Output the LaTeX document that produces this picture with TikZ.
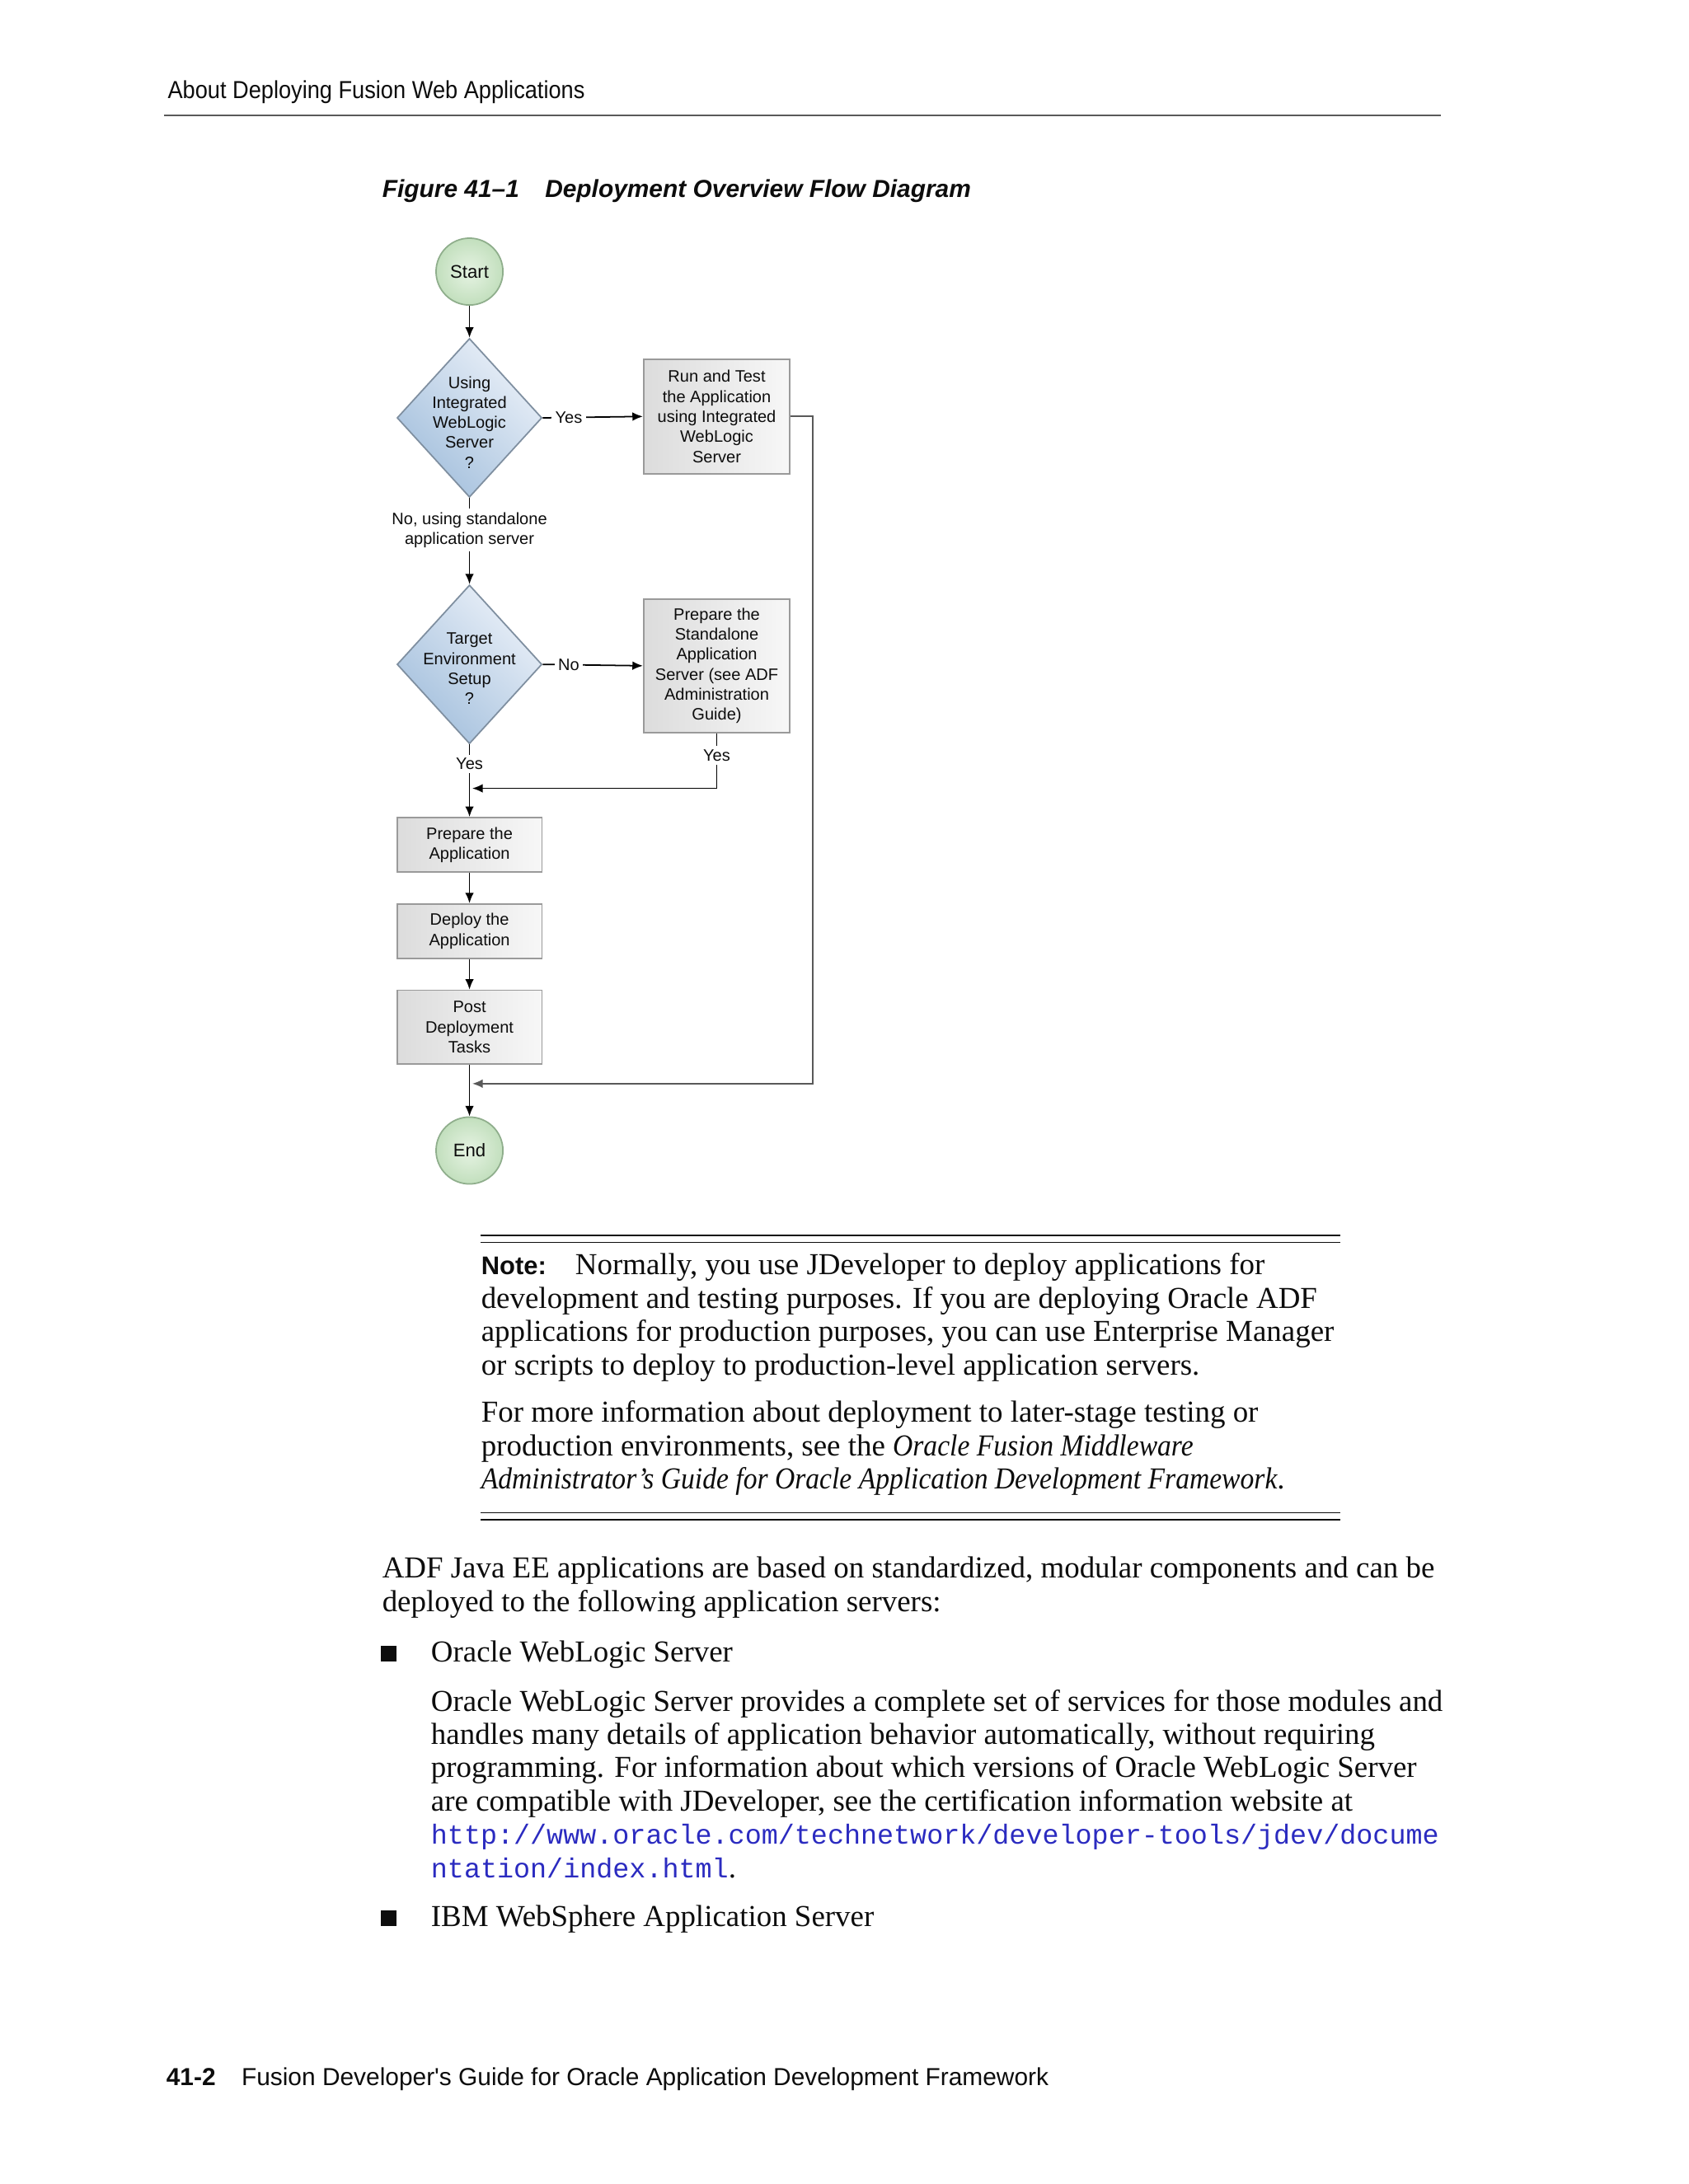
\documentclass[tikz,border=0pt]{standalone}
\usepackage{fontspec}
\setmainfont{Liberation Serif}[ItalicFeatures={FakeStretch=0.91}]
\setsansfont{Liberation Sans}
\setmonofont{Liberation Mono}
\newfontfamily\NarrowSans[FakeStretch=0.91]{Liberation Sans}
\usetikzlibrary{arrows.meta,shapes.geometric,positioning}
\definecolor{PageInk}{gray}{0.05}
\definecolor{RuleInk}{gray}{0.35}
\definecolor{BoxLine}{HTML}{9A9A9A}
\definecolor{BoxDark}{HTML}{DCDCDC}
\definecolor{BoxLight}{HTML}{F7F7F7}
\definecolor{DiamondLine}{HTML}{7F8FA0}
\definecolor{DiamondDark}{HTML}{A4C0DD}
\definecolor{DiamondLight}{HTML}{EAF0F8}
\definecolor{TermLine}{HTML}{8FAE8C}
\definecolor{TermInner}{HTML}{E6F3E3}
\definecolor{TermOuter}{HTML}{C2DFBD}
\definecolor{LinkBlue}{HTML}{2B2BC0}
\newcommand{\FlowFont}{\sffamily\fontsize{5.7}{6.9}\selectfont}
\newcommand{\BodyFont}{\rmfamily\fontsize{10.5}{11.5}\selectfont}
\newcommand{\NoteTag}{{\sffamily\bfseries\fontsize{8.8}{11.5}\selectfont Note:}}
\newcommand{\BulletMark}{\rule{5.5pt}{5.5pt}}

\begin{document}
\begin{tikzpicture}[
  x=0.016898cm,y=-0.016898cm,
  text=PageInk,
  flowbox/.style={draw=BoxLine,line width=0.5pt,left color=BoxDark,right color=BoxLight,
                  font=\FlowFont,align=center,inner sep=1pt,minimum width=1.757cm},
  decision/.style={shape=diamond,draw=DiamondLine,line width=0.5pt,
                   bottom color=DiamondDark,top color=DiamondLight,shading angle=-45,
                   inner sep=0pt,minimum width=1.757cm,minimum height=1.926cm},
  qtext/.style={font=\FlowFont,align=center,inner sep=0pt,yshift=-1.5pt},
  terminal/.style={circle,draw=TermLine,line width=0.5pt,inner color=TermInner,
                   outer color=TermOuter,font=\FlowFont\fontsize{6.3}{7}\selectfont,
                   inner sep=0pt,minimum size=0.811cm},
  flow/.style={draw=black,line width=0.5pt,-{Latex[length=3.6pt,width=3pt]}},
  loopflow/.style={flow,draw=RuleInk},
  lbl/.style={fill=white,font=\FlowFont,inner sep=1.2pt,align=center},
  bodytext/.style={font=\BodyFont,align=left,inner sep=0pt,anchor=base west},
  pagesans/.style={inner sep=0pt,anchor=base west},
]
  \useasboundingbox[fill=white] (0,0) rectangle (1212,1568);

  % running head
  \node[pagesans,font=\NarrowSans\fontsize{8.5}{10}\selectfont] (head) at (120,71)
    {About Deploying Fusion Web Applications};
  \draw[RuleInk,line width=0.7pt] (118,83) -- (1034,83);

  % caption
  \node[pagesans,font=\sffamily\bfseries\itshape\fontsize{8.5}{10}\selectfont] (cap) at (274,142)
    {Figure 41--1\hspace{1.05em}Deployment Overview Flow Diagram};

  % flow diagram
  \node[terminal] (start) at (337,195) {Start};
  \node[decision,label={[qtext]center:{Using\\Integrated\\WebLogic\\Server\\?}}] (q1) at (337,300) {};
  \node[flowbox,minimum width=1.774cm,minimum height=1.386cm] (run) at (514.5,299)
    {Run and Test\\the Application\\using Integrated\\WebLogic\\Server};
  \node[decision,label={[qtext]center:{Target\\Environment\\Setup\\?}}] (q2) at (337,477) {};
  \node[flowbox,minimum width=1.774cm,minimum height=1.622cm] (std) at (514.5,478)
    {Prepare the\\Standalone\\Application\\Server (see ADF\\Administration\\Guide)};
  \node[flowbox,minimum height=0.659cm] (prep) at (337,606.5) {Prepare the\\Application};
  \node[flowbox,minimum height=0.659cm] (dep) at (337,668.5) {Deploy the\\Application};
  \node[flowbox,minimum height=0.896cm] (post) at (337,737.5) {Post\\Deployment\\Tasks};
  \node[terminal] (end) at (337,826) {End};
  \coordinate (joinA) at (339,566);
  \coordinate (joinB) at (339,778);

  \draw[flow] (start) -- (q1);
  \draw[flow] (q1.east) -- node[lbl,pos=0.26] {Yes} (run.west);
  \draw[flow] (q1.south) -- node[lbl,pos=0.37] {No, using standalone\\application server} (q2.north);
  \draw[flow] (q2.east) -- node[lbl,pos=0.26] {No} (std.west);
  \draw[flow] (q2.south) -- node[lbl,pos=0.27] {Yes} (prep.north);
  \draw[flow] (std.south) |- node[lbl,pos=0.2] {Yes} (joinA);
  \draw[flow] (prep) -- (dep);
  \draw[flow] (dep) -- (post);
  \draw[flow] (post) -- (end);
  \draw[loopflow] (run.east) -- ++(16,0) |- (joinB);

  % note block (multi-line nodes sit on the baseline of their last line)
  \draw[PageInk,line width=0.5pt] (345,887) -- (962,887) (345,892) -- (962,892);
  \node[bodytext] (note) at (345,987)
    {\NoteTag\hspace{0.95em}Normally, you use JDeveloper to deploy applications for\\
     development and testing purposes. If you are deploying Oracle ADF\\
     applications for production purposes, you can use Enterprise Manager\\
     or scripts to deploy to production-level application servers.};
  \node[bodytext] (noteref) at (345,1069)
    {For more information about deployment to later-stage testing or\\
     production environments, see the \textit{Oracle Fusion Middleware}\\
     \textit{Administrator's Guide for Oracle Application Development Framework}.};
  \draw[PageInk,line width=0.5pt] (345,1086) -- (962,1086) (345,1091) -- (962,1091);

  % body text
  \node[bodytext] (intro) at (274,1157)
    {ADF Java EE applications are based on standardized, modular components and can be\\
     deployed to the following application servers:};
  \node[bodytext] (bulletA) at (273,1193) {\BulletMark};
  \node[bodytext] (itemA) at (309,1193) {Oracle WebLogic Server};
  \node[bodytext] (itemAtext) at (309,1348)
    {Oracle WebLogic Server provides a complete set of services for those modules and\\
     handles many details of application behavior automatically, without requiring\\
     programming. For information about which versions of Oracle WebLogic Server\\
     are compatible with JDeveloper, see the certification information website at\\
     {\ttfamily\fontsize{9.5}{11.5}\selectfont\color{LinkBlue}http://www.oracle.com/technetwork/developer-tools/jdev/docume}\\
     {\ttfamily\fontsize{9.5}{11.5}\selectfont\color{LinkBlue}ntation/index.html}.};
  \node[bodytext] (bulletB) at (273,1383) {\BulletMark};
  \node[bodytext] (itemB) at (309,1383) {IBM WebSphere Application Server};

  % page foot
  \node[pagesans,font=\sffamily\fontsize{8.5}{10}\selectfont] (foot) at (119,1497)
    {\textbf{41-2}\hspace{1.05em}Fusion Developer\textquotesingle s Guide for Oracle Application Development Framework};
\end{tikzpicture}
\end{document}
